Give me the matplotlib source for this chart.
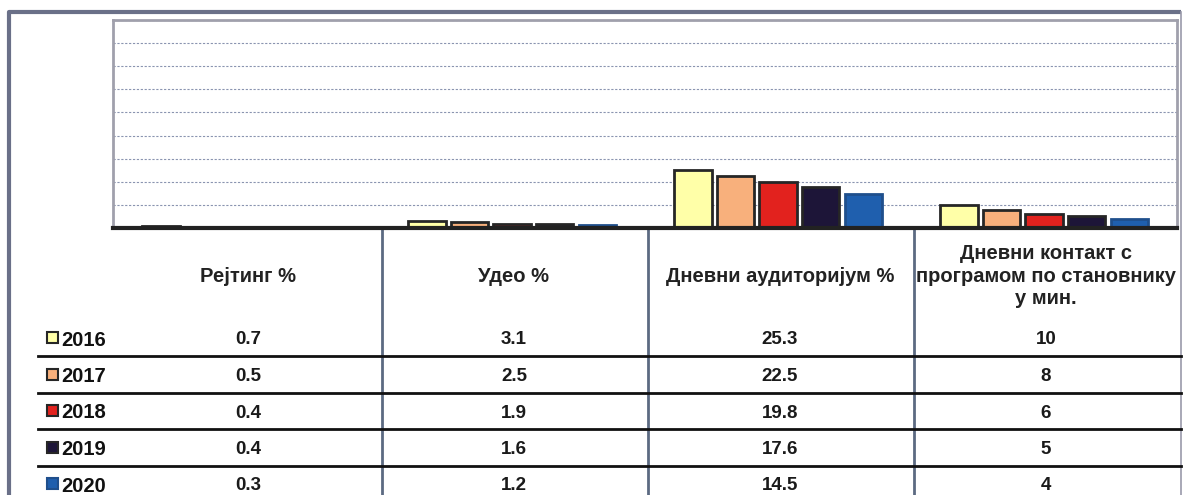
import numpy as np
import matplotlib.pyplot as plt
from matplotlib.patches import Rectangle

plt.rcParams['font.family'] = ['Liberation Sans', 'DejaVu Sans']

years = ['2016', '2017', '2018', '2019', '2020']
categories = ['Рејтинг %', 'Удео %', 'Дневни аудиторијум %',
              'Дневни контакт с\nпрограмом по становнику\nу мин.']
rating = [0.7, 0.5, 0.4, 0.4, 0.3]
share = [3.1, 2.5, 1.9, 1.6, 1.2]
daily_reach = [25.3, 22.5, 19.8, 17.6, 14.5]
contact_min = [10, 8, 6, 5, 4]
value_fmt = ['{:.1f}', '{:.1f}', '{:.1f}', '{:.0f}']

colors = ['#ffffa8', '#f8b07c', '#e2221e', '#1d1538', '#1f5fae']
edges = ['#262626', '#262626', '#262626', '#262626', '#1f4f8c']

W, H = 1185, 495
fig = plt.figure(figsize=(W / 100, H / 100), dpi=100)

# bar chart on top
ax = fig.add_axes([113 / W, 1 - 228 / H, (1177 - 113) / W, (228 - 20) / H])
values = np.array([rating, share, daily_reach, contact_min], dtype=float)
x = np.arange(len(categories))
for j, yr in enumerate(years):
    ax.bar(x + (j - 2) * 0.16, values[:, j], width=0.14, color=colors[j],
           edgecolor=edges[j], linewidth=2, zorder=3)
ax.set_xlim(-0.5, len(categories) - 0.5)
ax.set_ylim(0, 90)
ax.set_yticks(np.arange(0, 91, 10))
ax.yaxis.grid(True, linestyle=(0, (2, 1.5)), color='#8a94b0', linewidth=0.8)
ax.tick_params(left=False, bottom=False, labelleft=False, labelbottom=False)
for s in ['left', 'top', 'right']:
    ax.spines[s].set_color('#a0a0ac')
    ax.spines[s].set_linewidth(2)
ax.spines['bottom'].set_color('#222222')
ax.spines['bottom'].set_linewidth(3)
ax.spines['bottom'].set_zorder(5)

# data table below, drawn in pixel coordinates
tab = fig.add_axes([0, 0, 1, 1], zorder=-1)
tab.set_xlim(0, W)
tab.set_ylim(H, 0)
tab.axis('off')

col_edges = ax.transData.transform([(k - 0.5, 0) for k in range(len(categories) + 1)])[:, 0]
col_centers = (col_edges[:-1] + col_edges[1:]) / 2

# outer frame
tab.plot([9, 9, 1181], [H, 12, 12], color='#6a7088', lw=3, solid_capstyle='butt')
tab.plot([1181, 1181], [12, H], color='#9a9aaa', lw=1.2)

for xe in col_edges[1:-1]:
    tab.plot([xe + 3, xe + 3], [228, H], color='#5c6a82', lw=2)

header_y = 276
row_y0, row_h = 338, 36.5
for i, cat in enumerate(categories):
    tab.text(col_centers[i] + 2, header_y, cat, ha='center', va='center',
             fontsize=14.5, fontweight='bold', color='#222222', linespacing=1.25)

for r, yr in enumerate(years):
    y = row_y0 + r * row_h
    tab.add_patch(Rectangle((47, y - 6), 11, 11, facecolor=colors[r],
                            edgecolor=edges[r], lw=1.5))
    tab.text(61, y, yr, ha='left', va='center_baseline', fontsize=14.5,
             fontweight='bold', color='#111111')
    for i in range(len(categories)):
        tab.text(col_centers[i] + 2, y, value_fmt[i].format(values[i, r]),
                 ha='center', va='center_baseline', fontsize=13.5,
                 fontweight='bold', color='#1a1a1a')
    if r < len(years) - 1:
        tab.plot([38, 1181], [y + 18, y + 18], color='#111111', lw=2)

fig.savefig('out.png', dpi=100, facecolor='white')
